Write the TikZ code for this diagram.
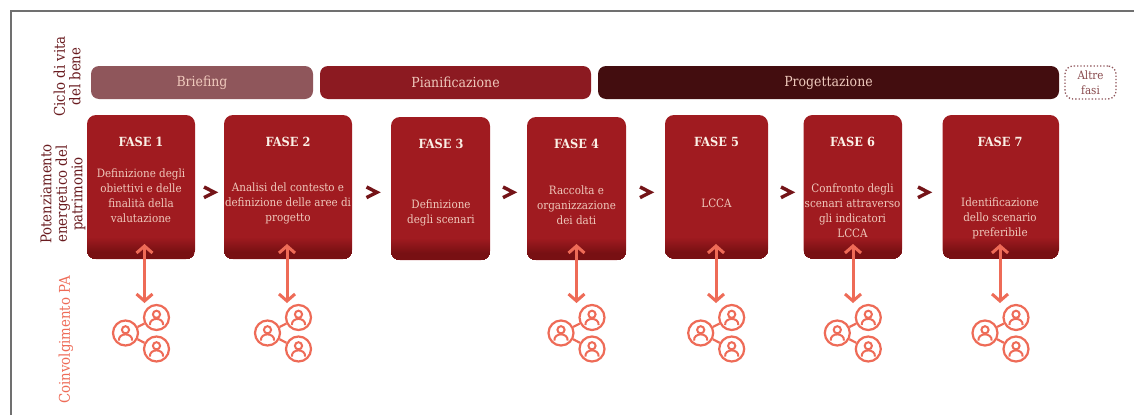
\documentclass[tikz,border=0pt]{standalone}
\usepackage{fontspec}
\usetikzlibrary{arrows.meta,calc}
\setmainfont{DejaVu Serif Condensed}
\definecolor{boxred}{HTML}{A01B20}
\definecolor{boxdark}{HTML}{781013}
\definecolor{briefingc}{HTML}{8F565B}
\definecolor{planc}{HTML}{8C1A21}
\definecolor{progc}{HTML}{430D0F}
\definecolor{bodytxt}{HTML}{EFC9BC}
\definecolor{titletxt}{HTML}{FBF0E6}
\definecolor{salmon}{HTML}{EE6B57}
\definecolor{labeldark}{HTML}{6A1C20}
\definecolor{chevron}{HTML}{741418}
\definecolor{framegray}{HTML}{707070}
\tikzset{
  phasebar/.style={rounded corners=8pt,minimum height=33pt,inner sep=0pt,font=\fontsize{13.9}{15}\selectfont,text=bodytxt},
  title/.style={font=\bfseries\fontsize{12.6}{15}\selectfont,text=titletxt,inner sep=0pt},
  body/.style={font=\fontsize{11.5}{15}\selectfont,text=bodytxt,align=center,inner sep=0pt},
  sidelabel/.style={rotate=90,align=center,inner sep=0pt,font=\fontsize{14.8}{15.5}\selectfont},
  twoway/.style={draw=salmon,line width=3pt,{Straight Barb[length=7pt,width=16pt,line width=3pt]}-{Straight Barb[length=7pt,width=16pt,line width=3pt]}},
  person/.style={circle,draw=salmon,line width=2.2pt,minimum size=25pt,inner sep=0pt},
  link/.style={draw=salmon,line width=2.2pt},
  chev/.style={draw=chevron,line width=3.4pt,miter limit=10}
}
% box: name, x1, y1, x2, y2
\newcommand{\phasebox}[5]{%
  \node[inner sep=0pt,minimum width={#4-#2},minimum height={#5-#3},rounded corners=9pt,fill=boxred,
    path picture={%
      \foreach \i in {22,21,...,1}{%
        \pgfmathtruncatemacro{\mixv}{max(0,min(100,(\i-7)/15*100))}%
        \fill[sharp corners,boxred!\mixv!boxdark] (path picture bounding box.south west) rectangle ([yshift=\i pt]path picture bounding box.south east);
      }}]
    (#1) at ({(#2+#4)/2},{(#3+#5)/2}) {};}
\newcommand{\persona}[1]{%
  \draw[salmon,line width=2pt] ($(#1)+(0,-3.2)$) circle (3.6);
  \draw[salmon,line width=2pt] ($(#1)+(-6.6,7.6)$) .. controls ($(#1)+(-7,3.5)$) and ($(#1)+(-3.5,1.4)$) .. ($(#1)+(0,1.4)$)
    .. controls ($(#1)+(3.5,1.4)$) and ($(#1)+(7,3.5)$) .. ($(#1)+(6.6,7.6)$);}
% people group: name, cx of left circle
\newcommand{\peoplegroup}[2]{%
  \node[person] (#1l) at (#2,333) {};
  \node[person] (#1t) at ({#2+31},317.5) {};
  \node[person] (#1b) at ({#2+31},349) {};
  \draw[link] (#1l) -- (#1t);
  \draw[link] (#1l) -- (#1b);
  \persona{#1l.center}\persona{#1t.center}\persona{#1b.center}}
\begin{document}
\begin{tikzpicture}[x=1pt,y=-1pt]
\useasboundingbox (0,0) rectangle (1134,415);
\fill[white] (0,0) rectangle (1134,415);
% frame
\draw[framegray,line width=1.5pt] (11,415) -- (11,11) -- (1134,11);
% side labels
\node[sidelabel,text=labeldark] (lab1) at (67,76.5) {Ciclo di vita\\del bene};
\node[sidelabel,text=labeldark] (lab2) at (63,194) {Potenziamento\\energetico del\\patrimonio};
\node[sidelabel,text=salmon] (lab3) at (66,340) {Coinvolgimento PA};
% phase bars
\node[phasebar,fill=briefingc,minimum width=222pt] (briefing) at (202,82.5) {Briefing};
\node[phasebar,fill=planc,minimum width=271pt] (plan) at (455.5,82.5) {Pianificazione};
\node[phasebar,fill=progc,minimum width=461pt] (prog) at (828.5,82.5) {Progettazione};
\node[rounded corners=8pt,draw=briefingc,dotted,line width=1.3pt,minimum width=51pt,minimum height=33pt,inner sep=0pt,align=center,
  font=\fontsize{11.5}{15}\selectfont,text=labeldark!80!white] (altre) at (1090.5,82.5) {Altre\\fasi};
% phase boxes
\phasebox{f1}{87}{115}{195}{259}
\phasebox{f2}{224}{115}{352}{259}
\phasebox{f3}{391}{117}{490}{260}
\phasebox{f4}{527}{117}{626}{260}
\phasebox{f5}{665}{115}{768}{258.5}
\phasebox{f6}{803.5}{115}{902}{258.5}
\phasebox{f7}{942.5}{115}{1059}{258.5}
% titles
\node[title] (t1) at (141,142) {FASE 1};
\node[title] (t2) at (288,142) {FASE 2};
\node[title] (t3) at (441,144) {FASE 3};
\node[title] (t4) at (576.5,144) {FASE 4};
\node[title] (t5) at (716.5,142) {FASE 5};
\node[title] (t6) at (852.5,142) {FASE 6};
\node[title] (t7) at (1000,142) {FASE 7};
% bodies
\node[body] (b1) at (141,196) {Definizione degli\\obiettivi e delle\\finalità della\\valutazione};
\node[body] (b2) at (288,203.5) {Analisi del contesto e\\definizione delle aree di\\progetto};
\node[body] (b3) at (441,213) {Definizione\\degli scenari};
\node[body] (b4) at (576.5,205.5) {Raccolta e\\organizzazione\\dei dati};
\node[body] (b5) at (716.5,203) {LCCA};
\node[body] (b6) at (852.5,211) {Confronto degli\\scenari attraverso\\gli indicatori\\LCCA};
\node[body] (b7) at (1000,218.5) {Identificazione\\dello scenario\\preferibile};
% chevrons between boxes
\foreach \cx in {204,366.5,503,640,781,918}{
  \draw[chev] (\cx,187) -- ({\cx+10.5},192.3) -- (\cx,197.6);
}
% people groups
\peoplegroup{g1}{125.5}
\peoplegroup{g2}{267.5}
\peoplegroup{g4}{561}
\peoplegroup{g5}{700.7}
\peoplegroup{g6}{837.3}
\peoplegroup{g7}{985}
% arrows
\foreach \n/\ax in {1/144.5,2/287,4/576.5,5/716,6/853,7/1000}{
  \coordinate (top\n) at (\ax,244);
  \coordinate (bot\n) at (\ax,303);
  \draw[twoway] (top\n) -- (bot\n);
}
\end{tikzpicture}
\end{document}
